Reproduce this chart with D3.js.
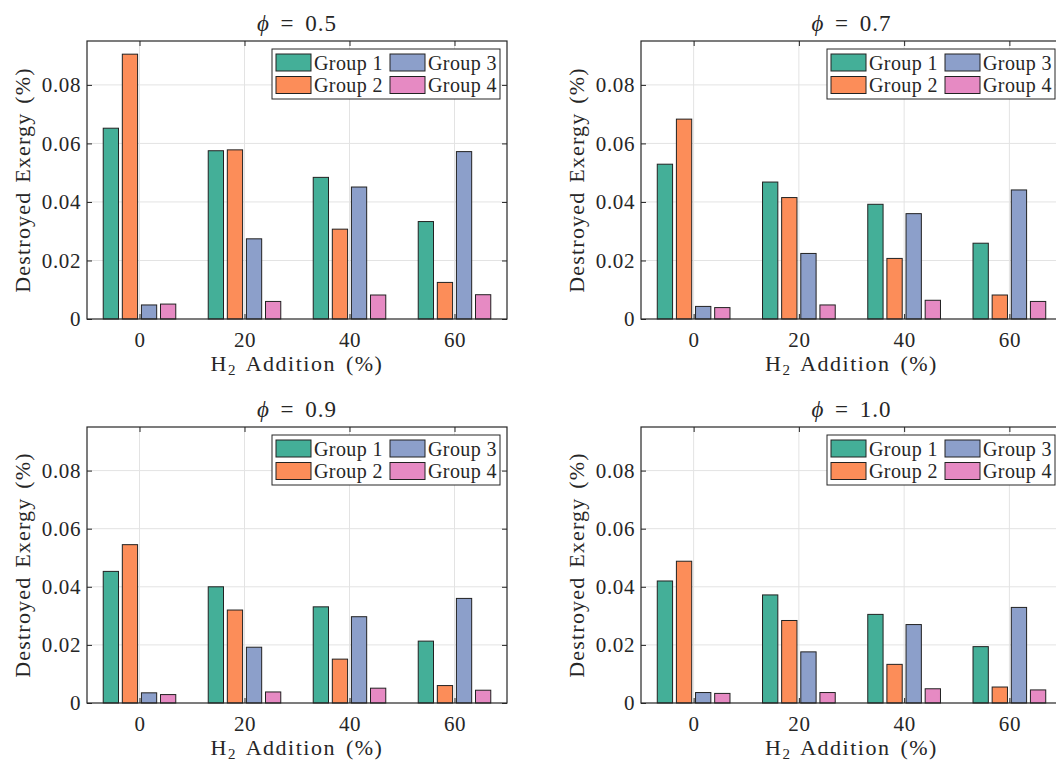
<!DOCTYPE html>
<html>
<head>
<meta charset="utf-8">
<script src="https://cdn.jsdelivr.net/npm/d3@7"></script>
<style>
    body { margin: 0; background: #fff; }
    svg { display: block; }
    text { font-family: "Liberation Serif", "DejaVu Serif", serif; fill: #262626; }
</style>
</head>
<body>
<svg id="chart" width="1056" height="761"></svg>
<script>
// H2 addition (%) on the x axis
const categories = [0, 20, 40, 60];
const groups = ["Group 1", "Group 2", "Group 3", "Group 4"];
const colors = ["#44AF98", "#FC8D59", "#8C9FCA", "#E68AC3"];
const yTicks = [0, 0.02, 0.04, 0.06, 0.08];

// one row per group, one value per H2 addition
const phi05 = [
    [0.0652, 0.0575, 0.0484, 0.0333],
    [0.0905, 0.0578, 0.0307, 0.0125],
    [0.0048, 0.0274, 0.0451, 0.0572],
    [0.0051, 0.0060, 0.0082, 0.0083]
];
const phi07 = [
    [0.0529, 0.0468, 0.0392, 0.0259],
    [0.0683, 0.0415, 0.0207, 0.0082],
    [0.0043, 0.0224, 0.0360, 0.0441],
    [0.0039, 0.0048, 0.0064, 0.0060]
];
const phi09 = [
    [0.0453, 0.0400, 0.0331, 0.0213],
    [0.0545, 0.0320, 0.0151, 0.0060],
    [0.0035, 0.0192, 0.0297, 0.0360],
    [0.0029, 0.0038, 0.0051, 0.0044]
];
const phi10 = [
    [0.0420, 0.0372, 0.0305, 0.0194],
    [0.0488, 0.0284, 0.0133, 0.0055],
    [0.0036, 0.0176, 0.0270, 0.0329],
    [0.0033, 0.0036, 0.0049, 0.0045]
];

const panels = [
    { phi: "0.5", data: phi05, x: 87, y: 41, w: 420, h: 278 },
    { phi: "0.7", data: phi07, x: 641, y: 41, w: 421, h: 278 },
    { phi: "0.9", data: phi09, x: 87, y: 427, w: 420, h: 276 },
    { phi: "1.0", data: phi10, x: 641, y: 427, w: 421, h: 276 }
];

const svg = d3.select("#chart");
svg.append("rect").attr("width", 1056).attr("height", 761).attr("fill", "white");

// MATLAB style grouped bars
const groupWidth = Math.min(0.8, groups.length / (groups.length + 1.5));
const pitch = 20 * groupWidth / groups.length;

panels.forEach((p) => {
    let g = svg.append("g").attr("transform", "translate(" + p.x + "," + p.y + ")");

    let x = d3.scaleLinear().domain([-10, 70]).range([0, p.w]);
    let y = d3.scaleLinear().domain([0, 0.095]).range([p.h, 0]);

    // grid
    let grid = g.append("g").attr("class", "grid");
    grid.selectAll(".gy").data(yTicks.slice(1)).enter().append("line")
        .attr("x1", 0).attr("x2", p.w)
        .attr("y1", (d) => y(d)).attr("y2", (d) => y(d))
        .attr("stroke", "#e3e3e3").attr("stroke-width", 1);
    grid.selectAll(".gx").data(categories).enter().append("line")
        .attr("x1", (d) => x(d)).attr("x2", (d) => x(d))
        .attr("y1", 0).attr("y2", p.h)
        .attr("stroke", "#e3e3e3").attr("stroke-width", 1);

    // bars
    p.data.forEach((series, i) => {
        let off = (i - (groups.length - 1) / 2) * pitch;
        g.append("g").selectAll("rect").data(series).enter().append("rect")
            .attr("x", (d, j) => x(categories[j] + off - pitch * 0.4))
            .attr("width", x(pitch * 0.8) - x(0))
            .attr("y", (d) => y(d))
            .attr("height", (d) => y(0) - y(d))
            .attr("fill", colors[i])
            .attr("stroke", "#222")
            .attr("stroke-width", 1);
    });

    // axes, ticks pointing inward on all four sides
    let fmt = (d) => d === 0 ? "0" : d3.format(".2f")(d);
    g.append("g")
        .call(d3.axisLeft(y).tickValues(yTicks).tickFormat(fmt).tickSize(-5).tickPadding(6))
        .call((a) => a.select(".domain").remove());
    g.append("g").attr("transform", "translate(" + p.w + ",0)")
        .call(d3.axisRight(y).tickValues(yTicks).tickFormat("").tickSize(-5))
        .call((a) => a.select(".domain").remove());
    g.append("g").attr("transform", "translate(0," + p.h + ")")
        .call(d3.axisBottom(x).tickValues(categories).tickSize(-5).tickPadding(13))
        .call((a) => a.select(".domain").remove());
    g.append("g")
        .call(d3.axisTop(x).tickValues(categories).tickFormat("").tickSize(-5))
        .call((a) => a.select(".domain").remove());
    g.selectAll(".tick line").attr("stroke", "#262626");
    g.selectAll(".tick text")
        .attr("font-size", 21)
        .attr("letter-spacing", 0.6)
        .attr("font-family", "Liberation Serif")
        .attr("fill", "#262626");

    g.append("rect")
        .attr("width", p.w).attr("height", p.h)
        .attr("fill", "none").attr("stroke", "#262626").attr("stroke-width", 1.2);

    // title
    let title = g.append("text")
        .attr("x", p.w / 2).attr("y", -10)
        .attr("text-anchor", "middle")
        .attr("font-size", 23)
        .attr("letter-spacing", 1)
        .attr("word-spacing", 4);
    title.append("tspan").attr("font-style", "italic").text("\u03D5");
    title.append("tspan").text(" = " + p.phi);

    // axis labels
    let xl = g.append("text")
        .attr("x", p.w / 2).attr("y", p.h + 52)
        .attr("text-anchor", "middle")
        .attr("font-size", 22)
        .attr("letter-spacing", 1.5)
        .attr("word-spacing", 3);
    xl.append("tspan").text("H");
    xl.append("tspan").attr("font-size", 15).attr("dy", 4).text("2");
    xl.append("tspan").attr("dy", -4).text(" Addition (%)");

    g.append("text")
        .attr("transform", "translate(-57," + (p.h / 2) + ") rotate(-90)")
        .attr("text-anchor", "middle")
        .attr("font-size", 22)
        .attr("letter-spacing", 1.2)
        .attr("word-spacing", 2)
        .text("Destroyed Exergy (%)");

    // legend, two columns
    let lw = 228, lh = 50;
    let leg = g.append("g").attr("transform", "translate(" + (p.w - 7 - lw) + ",8)");
    leg.append("rect").attr("width", lw).attr("height", lh)
        .attr("fill", "white").attr("stroke", "#262626").attr("stroke-width", 1);
    groups.forEach((name, i) => {
        let col = Math.floor(i / 2), row = i % 2;
        let item = leg.append("g").attr("transform", "translate(" + (4 + col * 114) + "," + (5 + row * 22.5) + ")");
        item.append("rect").attr("width", 35).attr("height", 17)
            .attr("fill", colors[i]).attr("stroke", "#222").attr("stroke-width", 1);
        item.append("text").attr("x", 38).attr("y", 8.5)
            .attr("dominant-baseline", "central")
            .attr("font-size", 20)
            .attr("letter-spacing", 0.4)
            .text(name);
    });
});
</script>
</body>
</html>
